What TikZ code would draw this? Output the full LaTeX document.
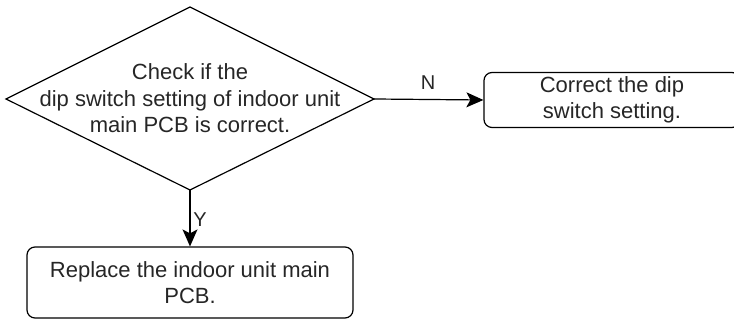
\documentclass[tikz,border=0pt]{standalone}
\usepackage{fontspec}
\setmainfont{Liberation Sans}
\usetikzlibrary{arrows.meta}
\begin{document}
\begin{tikzpicture}[x=1pt,y=1pt,
  txt/.style={align=center,font=\fontsize{22}{26.5}\selectfont,text=black!85},
  procbox/.style={draw,line width=1.2pt,rounded corners=8pt,inner sep=0pt},
  conn/.style={line width=1.2pt,-{Stealth[length=17pt,width=15pt,inset=4pt]}},
  lbl/.style={font=\fontsize{20}{22}\selectfont,text=black!85}]
\useasboundingbox (0,0) rectangle (734,320);
% decision diamond
\coordinate (dT) at (190,313);
\coordinate (dL) at (6,221);
\coordinate (dR) at (374,221);
\coordinate (dB) at (190,130);
\draw[line width=1.2pt,line join=miter] (dT) -- (dR) -- (dB) -- (dL) -- cycle;
\node[txt] (dtext) at (190,221.5) {Check if the\\dip switch setting of indoor unit\\main PCB is correct.};
% boxes
\node[procbox,minimum width=256pt,minimum height=55pt] (b1) at (612,220) {};
\node[txt] (b1t) at (b1.center) {Correct the dip\\switch setting.};
\node[procbox,minimum width=326pt,minimum height=71pt] (b2) at (190,37.5) {};
\node[txt] (b2t) at (b2.center) {Replace the indoor unit main\\PCB.};
% connectors
\draw[conn] (dR) -- (b1.west);
\draw[conn] (dB) -- (b2.north);
\node[lbl] (lN) at (428,237) {N};
\node[lbl] (lY) at (200,100) {Y};
\end{tikzpicture}
\end{document}
